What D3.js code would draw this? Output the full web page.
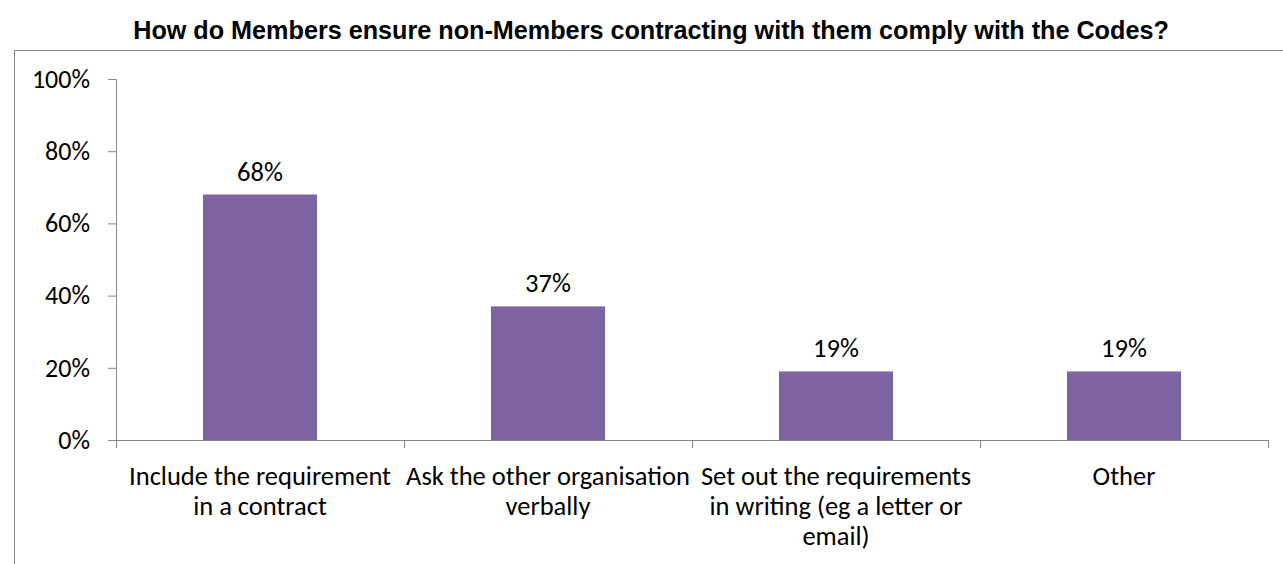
<!DOCTYPE html>
<html>
<head>
<meta charset="utf-8">
<script src="https://cdn.jsdelivr.net/npm/d3@7"></script>
<style>
  html, body { margin: 0; padding: 0; background: #fff; }
  svg { display: block; }
</style>
</head>
<body>
<svg id="chart" width="1283" height="564"></svg>
<script>
// Survey responses: share of Members using each method
const categories = [
  ["Include the requirement", "in a contract"],
  ["Ask the other organisation", "verbally"],
  ["Set out the requirements", "in writing (eg a letter or", "email)"],
  ["Other"]
];
const values = [0.68, 0.37, 0.19, 0.19];
const yTicks = [0, 0.2, 0.4, 0.6, 0.8, 1.0];
const title = "How do Members ensure non-Members contracting with them comply with the Codes?";

const svg = d3.select("#chart");
const W = 1283, H = 564;
const margin = { left: 116, right: 15, top: 79, bottom: 124 };
const plotW = W - margin.left - margin.right;   // 1152
const plotH = H - margin.top - margin.bottom;   // 361

const labelFont = "Carlito, Calibri, Lato, 'Open Sans', sans-serif";
const axisColor = "#868686";

// Outer chart frame
svg.append("rect")
  .attr("x", 14.5).attr("y", 50.5)
  .attr("width", W + 10).attr("height", H)
  .attr("fill", "none").attr("stroke", axisColor).attr("stroke-width", 1);

// Title
svg.append("text")
  .attr("x", 651).attr("y", 39)
  .attr("text-anchor", "middle")
  .attr("font-family", "Arial, 'Liberation Sans', sans-serif")
  .attr("font-weight", "bold")
  .attr("font-size", 25.2)
  .attr("fill", "#000")
  .text(title);

const g = svg.append("g").attr("transform", `translate(${margin.left},${margin.top})`);

const x = d3.scaleBand()
  .domain(d3.range(categories.length))
  .range([0, plotW])
  .paddingInner(0.604)
  .paddingOuter(0.302);

const y = d3.scaleLinear().domain([0, 1]).range([plotH, 0]);

// Bars
g.selectAll("rect.bar")
  .data(values)
  .join("rect")
  .attr("class", "bar")
  .attr("x", (d, i) => x(i))
  .attr("y", d => y(d))
  .attr("width", x.bandwidth())
  .attr("height", d => plotH - y(d))
  .attr("fill", "#8064A2");

// Value labels
g.selectAll("text.val")
  .data(values)
  .join("text")
  .attr("class", "val")
  .attr("x", (d, i) => x(i) + x.bandwidth() / 2)
  .attr("y", d => y(d) - 14)
  .attr("text-anchor", "middle")
  .attr("font-family", labelFont)
  .attr("font-size", 26.5)
  .attr("fill", "#000")
  .text(d => Math.round(d * 100) + "%");

// Y axis
const yAxis = d3.axisLeft(y)
  .tickValues(yTicks)
  .tickFormat(d3.format(".0%"))
  .tickSize(8)
  .tickPadding(18);
const ya = g.append("g").attr("class", "y-axis").call(yAxis);
ya.select(".domain").attr("stroke", axisColor).attr("d", `M-8,0.5H0.5V${plotH + 0.5}`);
ya.selectAll(".tick line").attr("stroke", axisColor);
ya.selectAll(".tick text")
  .attr("font-family", labelFont)
  .attr("font-size", 26)
  .attr("fill", "#000");

// X axis: category boundary ticks
const xa = g.append("g").attr("transform", `translate(0,${plotH})`);
xa.append("line")
  .attr("x1", 0).attr("x2", plotW)
  .attr("y1", 0.5).attr("y2", 0.5)
  .attr("stroke", axisColor);
const step = plotW / categories.length;
xa.selectAll("line.tick")
  .data(d3.range(categories.length + 1))
  .join("line")
  .attr("class", "tick")
  .attr("x1", i => Math.round(i * step) + 0.5)
  .attr("x2", i => Math.round(i * step) + 0.5)
  .attr("y1", 0).attr("y2", 8)
  .attr("stroke", axisColor);

// Category labels (multi-line)
const catText = xa.selectAll("text.cat")
  .data(categories)
  .join("text")
  .attr("class", "cat")
  .attr("text-anchor", "middle")
  .attr("font-family", labelFont)
  .attr("font-size", 26.5)
  .attr("fill", "#000");
catText.each(function(lines, i) {
  const t = d3.select(this);
  lines.forEach((line, k) => {
    t.append("tspan")
      .attr("x", x(i) + x.bandwidth() / 2)
      .attr("y", 45 + k * 30)
      .text(line);
  });
});
</script>
</body>
</html>
